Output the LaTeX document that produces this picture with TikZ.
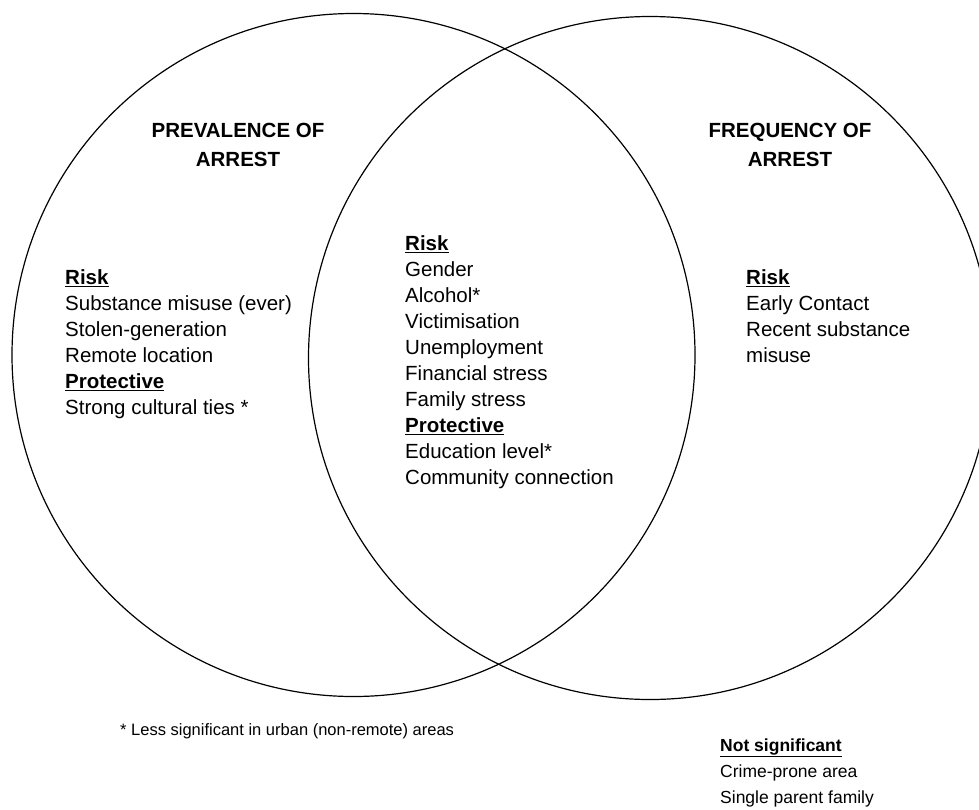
\documentclass[tikz,border=0pt]{standalone}
\usepackage{fontspec}
\setmainfont{Liberation Sans}
\usetikzlibrary{positioning}

\newcommand{\hd}[1]{\underline{\textbf{#1}}}

\begin{document}
\begin{tikzpicture}[x=1pt,y=-1pt,
    venn/.style={circle,draw,line width=1.2pt,minimum size=683pt,inner sep=0pt},
    head/.style={font=\fontsize{20.5}{29}\selectfont\bfseries,align=center,inner sep=0pt},
    list/.style={font=\fontsize{20.5}{26}\selectfont,align=left,anchor=north west,inner sep=0pt}
]
    \useasboundingbox (0,0) rectangle (979,809);
    % the two sets
    \node[venn] (prev) at (353.5,355) {};
    \node[venn] (freq) at (650,358) {};
    % set titles
    \node[head] (prevtitle) at (238,145) {PREVALENCE OF\\ARREST};
    \node[head] (freqtitle) at (790,145) {FREQUENCY OF\\ARREST};
    % factors
    \node[list] (prevlist) at (65,269.5) {\hd{Risk}\\Substance misuse (ever)\\Stolen-generation\\
        Remote location\\\hd{Protective}\\Strong cultural ties *};
    \node[list] (bothlist) at (405,235.5) {\hd{Risk}\\Gender\\Alcohol*\\Victimisation\\Unemployment\\
        Financial stress\\Family stress\\\hd{Protective}\\Education level*\\Community connection};
    \node[list] (freqlist) at (746,269.5) {\hd{Risk}\\Early Contact\\Recent substance\\misuse};
    % notes below
    \node[list,anchor=west,font=\fontsize{16.5}{20}\selectfont] (note) at (120,731)
        {* Less significant in urban (non-remote) areas};
    \node[list,font=\fontsize{17.5}{26}\selectfont] (nonsig) at (720,738.5)
        {\hd{Not significant}\\Crime-prone area\\Single parent family};
\end{tikzpicture}
\end{document}
